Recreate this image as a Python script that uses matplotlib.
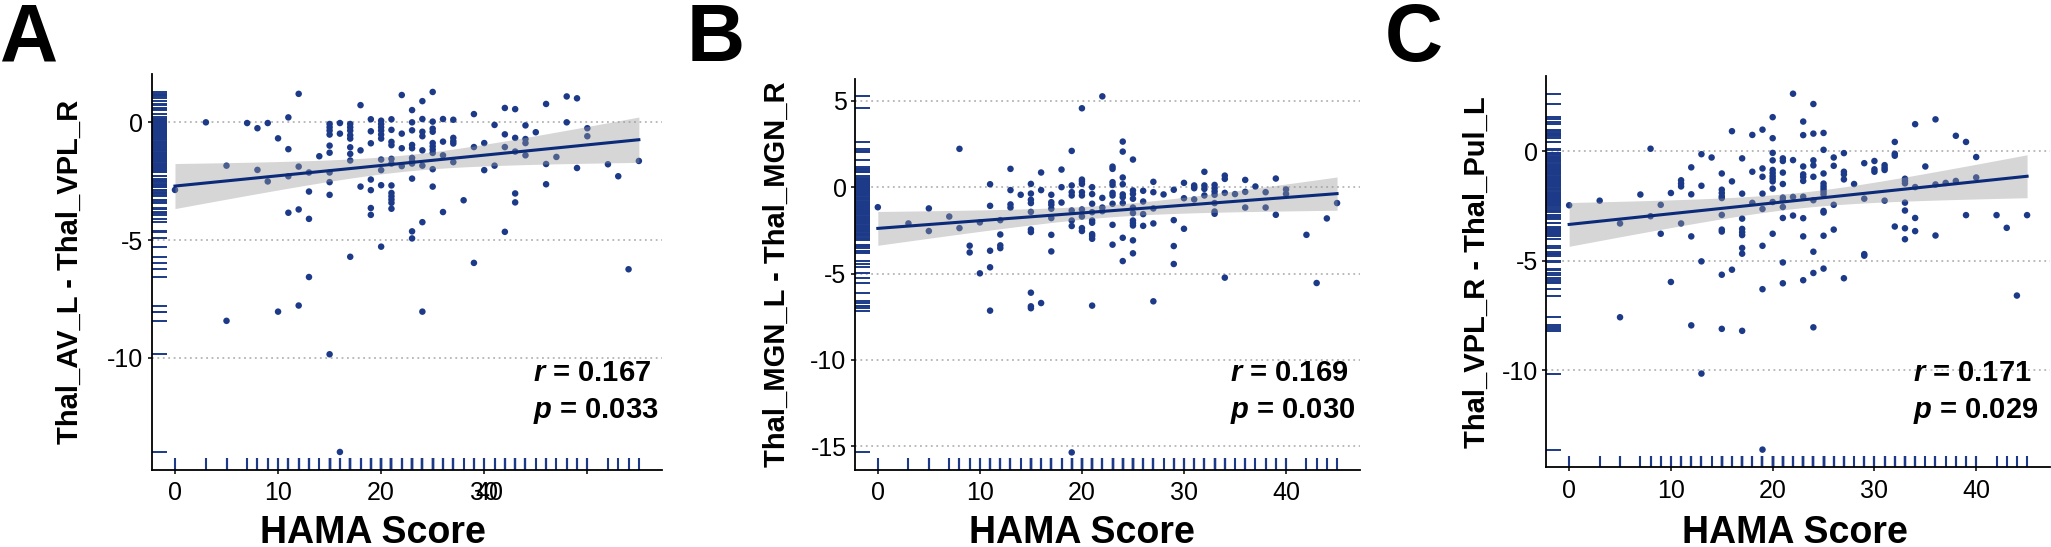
import matplotlib
matplotlib.use('Agg')
import matplotlib.pyplot as plt
import matplotlib.transforms as mtrans
import numpy as np

plt.rcParams['font.family'] = ['Liberation Sans', 'DejaVu Sans']
plt.rcParams['mathtext.fontset'] = 'custom'
plt.rcParams['mathtext.it'] = 'Liberation Sans:italic:bold'
plt.rcParams['mathtext.rm'] = 'Liberation Sans:bold'

panel_letters = ['A', 'B', 'C']
y_labels = ['Thal_AV_L - Thal_VPL_R', 'Thal_MGN_L - Thal_MGN_R', 'Thal_VPL_R - Thal_Pul_L']
x_label = 'HAMA Score'
r_values = ['0.167', '0.169', '0.171']
p_values = ['0.033', '0.030', '0.029']
y_ticks = [[0, -5, -10], [5, 0, -5, -10, -15], [0, -5, -10]]
x_ticks = [0, 10, 20, 30, 40]

# (HAMA score, [differences at that score])
cols_a = [
    (0, [-2.87]), (3, [0.0]), (5, [-1.84, -8.43]), (7, [-0.03]), (8, [-0.25, -2.02]),
    (9, [-0.03, -2.51]), (10, [-0.68, -8.04]), (11, [0.21, -1.14, -2.29, -3.84]),
    (12, [1.21, -1.88, -3.70, -7.78]), (13, [-2.13, -2.94, -4.10, -6.57]), (14, [-1.44]),
    (15, [-0.07, -0.21, -0.35, -0.52, -0.99, -1.29, -2.13, -2.54, -3.08, -9.85]),
    (16, [-0.03, -0.48, -14.0]),
    (17, [-0.07, -0.21, -0.35, -0.55, -0.69, -1.06, -1.34, -1.62, -5.71]),
    (18, [0.73, -1.19, -2.73]), (19, [0.13, -0.38, -0.89, -2.43, -2.88, -3.64, -3.93]),
    (20, [0.07, -0.07, -0.21, -0.35, -0.52, -0.69, -1.58, -2.03, -2.67, -5.28]),
    (21, [0.13, -0.32, -0.83, -0.97, -1.55, -1.75, -2.68, -3.0, -3.14, -3.28, -3.42, -3.67]),
    (22, [1.16, -0.48, -1.10, -1.86]),
    (23, [0.52, 0.0, -0.34, -0.96, -1.10, -1.51, -1.65, -1.75, -2.39, -4.63, -4.93]),
    (24, [0.90, 0.14, -0.40, -0.59, -1.19, -1.84, -4.24, -8.04]),
    (25, [1.29, 0.03, -0.27, -0.40, -0.88, -1.02, -1.16, -1.30, -1.99, -2.73]),
    (26, [0.14, -0.82, -1.40, -3.81]), (27, [0.11, -0.66, -0.80, -0.90, -1.69]),
    (28, [-3.31]), (29, [0.35, -1.05, -5.97]), (30, [-0.88, -2.03]), (31, [-0.11, -1.84]),
    (32, [0.61, -0.51, -1.05, -4.65]), (33, [0.56, -0.66, -1.24, -3.02, -3.40]),
    (34, [-0.13, -0.71, -0.88, -1.40]), (35, [-0.42]), (36, [0.78, -1.77, -2.63]),
    (37, [-1.47]), (38, [1.10, 0.0]), (39, [1.02, -1.94]), (40, [-0.25, -0.59]),
    (42, [-1.78]), (43, [-2.29]), (44, [-6.24]), (45, [-1.64]),
]

cols_b = [
    (0, [-1.16]), (3, [-2.10]), (5, [-1.23, -2.54]), (7, [-1.70]), (8, [2.22, -2.37]),
    (9, [-3.39, -3.78]), (10, [-2.04, -4.99]), (11, [0.17, -1.08, -3.68, -4.64, -7.15]),
    (12, [-1.91, -2.74, -3.37, -3.53]), (13, [1.06, -0.17, -1.0, -1.18]), (14, [-0.44]),
    (15, [0.19, -0.37, -0.73, -0.92, -1.43, -2.45, -2.60, -6.11, -6.90, -7.01]),
    (16, [0.85, -0.17, -6.71]), (17, [-0.44, -0.87, -1.02, -1.25, -1.79, -2.76, -3.72]),
    (18, [1.02, 0.0, -0.89]), (19, [2.10, 0.10, -0.29, -0.48, -1.35, -1.93, -2.25, -15.36]),
    (20, [4.57, 0.44, 0.33, 0.19, -0.29, -0.48, -1.29, -1.70, -2.37, -2.54]),
    (21, [0.0, -0.40, -0.96, -1.45, -1.93, -2.06, -2.72, -2.83, -2.99, -6.86]),
    (22, [5.26, -0.62, -1.18, -1.39]),
    (23, [1.19, 1.06, 0.29, 0.13, -0.33, -0.48, -0.96, -2.18, -3.33]),
    (24, [2.64, 2.06, 0.56, 0.17, -0.42, -0.58, -0.92, -2.93, -4.28]),
    (25, [1.60, -0.19, -0.39, -0.67, -1.18, -1.50, -1.93, -2.08, -2.22, -3.08, -3.83]),
    (26, [-0.21, -0.83, -1.56, -2.24]), (27, [0.31, -0.29, -1.23, -2.10, -6.61]),
    (28, [-0.42]), (29, [-0.15, -1.91, -3.41, -4.45]), (30, [0.25, -0.64, -2.41]),
    (31, [0.10, -0.06, -0.71]), (32, [0.89, 0.10, -0.10, -0.48]),
    (33, [0.13, -0.06, -0.25, -0.44, -0.92, -1.41, -1.54]), (34, [0.67, 0.48, -0.33, -5.24]),
    (35, [-0.40]), (36, [0.42, -0.27, -1.18]), (37, [0.04]), (38, [-0.29, -1.18]),
    (39, [0.50, -1.60]), (40, [-0.13, -0.39]), (42, [-2.76]), (43, [-5.55]),
    (44, [-1.81]), (45, [-0.92]),
]

cols_c = [
    (0, [-2.47]), (3, [-2.26]), (5, [-3.30, -7.58]), (7, [-1.98]), (8, [0.11, -2.97]),
    (9, [-2.45, -3.77]), (10, [-1.91, -5.97]), (11, [-1.33, -1.48, -1.61, -3.30]),
    (12, [-0.74, -1.97, -3.89, -7.95]), (13, [-0.14, -1.58, -5.03, -10.15]), (14, [-0.29]),
    (15, [-1.02, -1.76, -1.91, -2.06, -2.14, -2.91, -3.58, -3.67, -5.64, -8.11]),
    (16, [0.91, -1.38, -5.41]),
    (17, [-0.33, -1.94, -3.08, -3.55, -3.70, -3.83, -4.42, -4.68, -8.20]),
    (18, [0.74, -0.94, -2.36]), (19, [0.98, -0.79, -1.17, -1.94, -2.64, -4.32, -6.30, -13.62]),
    (20, [1.55, 0.59, -0.08, -0.42, -0.86, -1.0, -1.14, -1.26, -1.38, -1.71, -2.32, -3.77]),
    (21, [-0.33, -0.45, -0.98, -1.50, -2.12, -2.24, -2.55, -3.05, -5.08, -6.03]),
    (22, [2.62, -0.41, -2.09, -2.94]),
    (23, [1.35, 0.73, -0.70, -1.06, -1.18, -1.36, -2.08, -3.06, -3.89, -5.89]),
    (24, [2.15, 0.80, -0.42, -0.65, -1.17, -2.24, -4.59, -5.56, -8.04]),
    (25, [0.83, 0.06, -1.02, -1.48, -1.61, -1.73, -1.85, -1.97, -2.73, -2.80, -3.86, -5.36]),
    (26, [-0.29, -0.67, -2.45, -3.58]), (27, [-0.09, -0.94, -1.06, -1.29, -5.80]),
    (28, [-1.50]), (29, [-0.55, -2.17, -4.70, -4.77]), (30, [-0.45, -0.83, -0.94]),
    (31, [-0.64, -0.76, -0.86, -2.26]), (32, [0.42, -0.12, -0.21, -3.44]),
    (33, [-1.26, -1.36, -1.47, -2.35, -2.71, -3.52, -4.02]), (34, [1.23, -1.64, -3.05, -3.65]),
    (35, [-0.70]), (36, [1.45, -1.52, -3.85]), (37, [-1.45]), (38, [0.70, -1.36]),
    (39, [0.42, -2.92]), (40, [-0.27, -1.20]), (42, [-2.92]), (43, [-3.50]),
    (44, [-6.59]), (45, [-2.92]),
]

point_color = '#1c3a87'
line_color = '#0b2a78'

# layout (figure fractions)
axes_pos = [[0.0740, 0.1408, 0.2488, 0.7240],
            [0.4168, 0.1404, 0.2463, 0.7160],
            [0.7539, 0.1455, 0.2456, 0.7157]]
letter_x = [0.0, 0.335, 0.675]
ylab_x = [-0.160, -0.155, -0.137]
xlab_x = [0.433, 0.450, 0.493]
stat_x = [0.747, 0.743, 0.728]


def expand(cols):
    xs, ys = [], []
    for x, vals in cols:
        for v in vals:
            xs.append(x)
            ys.append(v)
    return np.array(xs, dtype=float), np.array(ys, dtype=float)


fig = plt.figure(figsize=(20.51, 5.47), dpi=100)

for i, cols in enumerate([cols_a, cols_b, cols_c]):
    x, y = expand(cols)
    ax = fig.add_axes(axes_pos[i])

    ax.scatter(x, y, s=22, color=point_color, edgecolors='none', zorder=2)

    # linear fit with 95% band
    n = len(x)
    slope, icept = np.polyfit(x, y, 1)
    gx = np.linspace(x.min(), x.max(), 100)
    gy = icept + slope * gx
    resid = y - (icept + slope * x)
    s = np.sqrt(np.sum(resid ** 2) / (n - 2))
    se = s * np.sqrt(1.0 / n + (gx - x.mean()) ** 2 / np.sum((x - x.mean()) ** 2))
    ax.fill_between(gx, gy - 1.975 * se, gy + 1.975 * se, color='#999999', alpha=0.4,
                    linewidth=0, zorder=3)
    ax.plot(gx, gy, color=line_color, lw=2.2, zorder=4)

    # rugs
    ax.vlines(x, 0, 0.03, transform=ax.get_xaxis_transform(), color=point_color, lw=1.5, zorder=2)
    ax.hlines(y, 0, 0.03, transform=ax.get_yaxis_transform(), color=point_color, lw=1.4, zorder=2)

    xr = x.max() - x.min()
    yr = y.max() - y.min()
    ax.set_xlim(x.min() - 0.05 * xr, x.max() + 0.05 * xr)
    ax.set_ylim(y.min() - 0.05 * yr, y.max() + 0.05 * yr)

    ax.set_yticks(y_ticks[i])
    ax.set_yticklabels([str(t) for t in y_ticks[i]])
    if i == 0:
        # the first panel's "40" label sits on top of "30"
        ax.set_xticks([0, 10, 20, 30, 30.5, 40])
        ax.set_xticklabels(['0', '10', '20', '30', '40', ''])
        ax.xaxis.get_major_ticks()[4].tick1line.set_visible(False)
    else:
        ax.set_xticks(x_ticks)
        ax.set_xticklabels([str(t) for t in x_ticks])

    ax.yaxis.grid(True, color='#b4b4b4', lw=1.3, linestyle=(0, (1, 2)))
    ax.set_axisbelow(True)
    for side in ['top', 'right']:
        ax.spines[side].set_visible(False)
    for side in ['left', 'bottom']:
        ax.spines[side].set_linewidth(1.3)
        ax.spines[side].set_color('black')
    ax.tick_params(axis='both', length=3, width=1.1, labelsize=18, colors='black')
    ax.tick_params(axis='x', pad=5)
    ax.tick_params(axis='y', pad=3)

    ax.text(ylab_x[i], 0.5, y_labels[i], transform=ax.transAxes, rotation=90,
            ha='center', va='center', fontsize=21, fontweight='bold')

    tr = mtrans.blended_transform_factory(ax.transAxes, fig.transFigure)
    fig.text(xlab_x[i], 0.0073, x_label, transform=tr, ha='center', va='baseline',
             fontsize=27, fontweight='bold')
    fig.text(stat_x[i], 0.3026, '$r$ = ' + r_values[i], transform=tr, ha='left',
             va='baseline', fontsize=21, fontweight='bold')
    fig.text(stat_x[i], 0.2355, '$p$ = ' + p_values[i], transform=tr, ha='left',
             va='baseline', fontsize=21, fontweight='bold')

    fig.text(letter_x[i], 0.8885, panel_letters[i], ha='left', va='baseline',
             fontsize=58, fontweight='bold')

fig.savefig('out.png', dpi=100)
